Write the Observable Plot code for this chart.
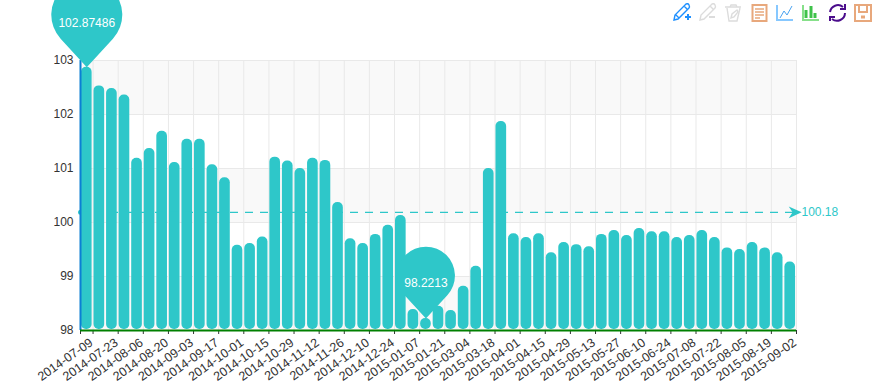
<!DOCTYPE html>
<html>
<head>
<meta charset="utf-8">
<script src="https://cdn.jsdelivr.net/npm/d3@7"></script>
<script src="https://cdn.jsdelivr.net/npm/@observablehq/plot@0.6"></script>
<style>
html,body{margin:0;padding:0;background:#fff;overflow:hidden}
#wrap{position:relative;width:876px;height:388px}
#wrap svg.plot{display:block}
#tools{position:absolute;left:0;top:0;pointer-events:none}
</style>
</head>
<body>
<div id="wrap">
<svg id="tools" width="876" height="30" fill="none" stroke-width="1.4">
  <g stroke="#1e90ff"><path d="M674 20l1-5 11-11q2-1 3 1t0 3l-11 11z M684 6l3 3 M676 15l3 3"/><path d="M685 17h6M688 14v6" stroke-width="2"/></g>
  <g stroke="#dcdcdc"><path d="M700 20l1-5 11-11q2-1 3 1t0 3l-11 11z M710 6l3 3"/><path d="M709 17h6" stroke-width="2"/></g>
  <g stroke="#dcdcdc"><path d="M725 7h16M730 7l1-2h5l1 2M727 8l2 13h8l3-13"/><path d="M731 18l1-4 5-4 1 2-4 5z"/></g>
  <g stroke="#e8a87c" stroke-width="2"><rect x="752.5" y="5" width="14" height="16"/><path d="M755 9h9M755 12h9M755 15h9M755 18h5" stroke-width="1.5"/></g>
  <g stroke="#87c8ff"><path d="M777 5v15h16" stroke-width="2"/><path d="M780 18l4-7 3 4 5-9" stroke="#4aa3f0" stroke-width="1"/></g>
  <g><path d="M803 5v15h16" stroke="#87e08a" stroke-width="2"/><path d="M806 18v-8M811 18v-12M815 18v-5" stroke="#3fc24a" stroke-width="3"/></g>
  <g stroke="#4b0d8c" stroke-width="2"><path d="M830 12a8 8 0 0 1 13-5M845 13a8 8 0 0 1-13 6"/><path d="M840 9h5v-5M835 17h-5v4"/></g>
  <g stroke="#e8a87c" stroke-width="2"><rect x="855" y="5" width="16" height="16"/><path d="M859 5v7h8v-7"/><path d="M861 17h4" stroke-width="3"/></g>
</svg>
</div>
<script>
const dateLabels = ["2014-07-09","2014-07-23","2014-08-06","2014-08-20","2014-09-03","2014-09-17","2014-10-01","2014-10-15","2014-10-29","2014-11-12","2014-11-26","2014-12-10","2014-12-24","2015-01-07","2015-01-21","2015-03-04","2015-03-18","2015-04-01","2015-04-15","2015-04-29","2015-05-13","2015-05-27","2015-06-10","2015-06-24","2015-07-08","2015-07-22","2015-08-05","2015-08-19","2015-09-02"];
const values = [102.87486,102.53,102.48,102.36,101.19,101.37,101.69,101.11,101.54,101.54,101.07,100.83,99.58,99.61,
  99.73,101.21,101.14,101.00,101.19,101.15,100.37,99.70,99.61,99.78,99.95,100.13,
  98.39,98.2213,98.45,98.37,98.82,99.19,101.00,101.87,99.79,99.72,99.79,99.44,99.63,99.59,
  99.55,99.78,99.85,99.76,99.89,99.83,99.83,99.72,99.76,99.85,99.72,99.53,99.50,99.63,99.53,99.44,99.27];
const yTicks = [98,99,100,101,102,103];
const averageValue = 100.18;
const maxPoint = {index:0, value:102.87486, label:"102.87486"};
const minPoint = {index:27, value:98.2213, label:"98.2213"};
const shadedBands = [[102,103],[100,101],[98,99]];

const TEAL = "#2ec7c9";
const rows = values.map((v,i)=>({i,v}));
const labelRows = dateLabels.map((d,k)=>({d,i:k*2}));
const boundaries = [0, ...d3.range(1, values.length, 2), values.length];

const pin = {draw(ctx,size){
  const r=Math.sqrt(size/Math.PI), k=r*1.48, s=r/k, c=Math.sqrt(1-s*s);
  const a=Math.asin(s);
  ctx.moveTo(0,0);
  ctx.lineTo(r*c,-k+r*s);
  ctx.arc(0,-k,r,a,Math.PI-a,true);
  ctx.closePath();
}};
const arrow = {draw(ctx,size){
  const r=Math.sqrt(size/Math.PI);
  ctx.moveTo(r*.8,0); ctx.lineTo(-r*1.2,-r*.9); ctx.lineTo(-r*.6,0); ctx.lineTo(-r*1.2,r*.9); ctx.closePath();
}};

const chart = Plot.plot({
  width:876, height:388,
  marginLeft:80, marginRight:80, marginTop:60, marginBottom:58,
  style:{fontFamily:"'Liberation Sans',Arial,sans-serif",fontSize:"12px",background:"#fff",overflow:"hidden"},
  x:{type:"linear",domain:[0,values.length],axis:null},
  y:{domain:[98,103],axis:null},
  marks:[
    Plot.rect(shadedBands,{x1:()=>0,x2:()=>values.length,y1:d=>d[0],y2:d=>d[1],fill:"#f9f9f9"}),
    Plot.ruleY(yTicks,{stroke:"#e9e9e9",strokeWidth:1}),
    Plot.ruleX(boundaries,{stroke:"#e9e9e9",strokeWidth:1}),
    Plot.axisX(boundaries,{anchor:"bottom",tickSize:4,tickFormat:()=>"",label:null,stroke:"#333"}),
    Plot.rectY(rows,{x1:"i",x2:d=>d.i+1,y1:()=>98,y2:"v",insetLeft:0.95,insetRight:0.95,insetBottom:1,fill:TEAL,rx:5}),
    Plot.ruleY([averageValue],{x1:0,x2:values.length,dy:-0.5,stroke:TEAL,strokeWidth:1.2,strokeDasharray:"8 7"}),
    Plot.dot([averageValue],{x:()=>0,y:d=>d,dy:-0.5,r:2.5,fill:TEAL,stroke:null}),
    Plot.dot([averageValue],{x:()=>values.length,y:d=>d,dy:-0.5,symbol:arrow,r:6.5,fill:TEAL,stroke:null}),
    Plot.text([averageValue],{x:()=>values.length,y:d=>d,dy:-0.5,text:d=>String(d),textAnchor:"start",dx:5,fill:TEAL,fontSize:12}),
    Plot.ruleX([0],{stroke:"#0b7fd4",strokeWidth:2}),
    Plot.ruleY([98],{stroke:"#008000",strokeWidth:2}),
    Plot.text(yTicks,{x:()=>0,y:d=>d,text:d=>String(d),textAnchor:"end",dx:-7,fill:"#333",fontSize:12}),
    Plot.text(labelRows,{x:d=>d.i+0.5,frameAnchor:"bottom",text:"d",rotate:-35,textAnchor:"end",dx:7,dy:14,fill:"#333",fontSize:12.5}),
    Plot.dot([maxPoint],{x:d=>d.index+0.5,y:"value",symbol:pin,r:35.5,fill:TEAL,stroke:null}),
    Plot.text([maxPoint],{x:d=>d.index+0.5,y:"value",text:"label",dy:-44,fill:"#fff",fontSize:12}),
    Plot.dot([minPoint],{x:d=>d.index+0.5,y:"value",symbol:pin,r:29,fill:TEAL,stroke:null}),
    Plot.text([minPoint],{x:d=>d.index+0.5,y:"value",text:"label",dy:-35,fill:"#fff",fontSize:12})
  ]
});
document.getElementById("wrap").prepend(chart);
</script>
</body>
</html>
